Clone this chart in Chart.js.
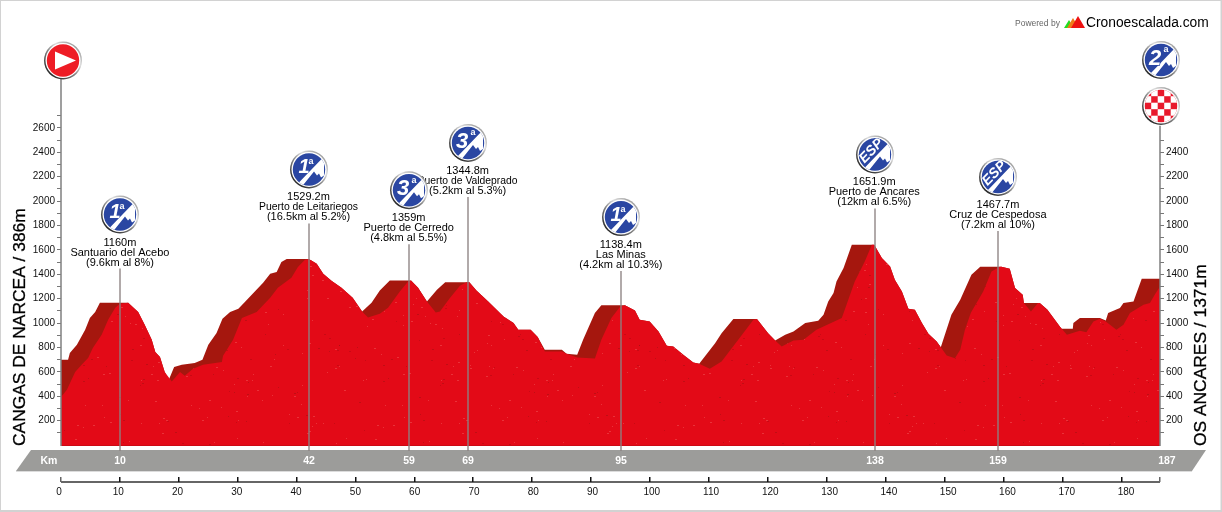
<!DOCTYPE html>
<html lang="es">
<head>
    <meta charset="UTF-8">
    <title>Cangas de Narcea - Os Ancares</title>
    <script src="https://cdn.jsdelivr.net/npm/chart.js"></script>
    <style>
        html, body { margin: 0; padding: 0; background: #fff; }
        canvas { display: block; }
    </style>
</head>
<body>
    <canvas id="profile" width="1222" height="512"></canvas>

<script>
// perfil de la etapa: silueta de fondo (con la sombra de los puertos)
const backKm = [0,1.2,1.5,2.7,4.1,4.9,5.8,6.6,11.4,13.1,14.2,15.4,16,16.8,17.6,18.3,19.2,20.5,22.7,24,25,26.4,27.4,28.7,30.1,31.2,34.3,35.5,36.6,37.4,38.3,42,42.5,43.4,44.5,45.9,47.6,49.5,51.1,52.7,54.1,55.8,59.4,60.6,62.1,63.8,65.2,69.3,70.5,72.5,75.1,76.8,77.6,79.7,80.9,82.1,85,85.8,87.6,88.6,90.6,91.7,95.7,97.4,98.2,99.9,101.4,102.8,103.9,105.6,107.3,108.3,111,112.1,114.1,118.1,120,121.2,122.9,124.3,126.3,128.5,129.4,130.2,131.1,131.6,132.8,134.2,138,139.3,140.7,141.5,142.7,143.8,144.9,146.1,147.2,148.6,149.3,151.1,152.6,154.5,156,159.6,161,161.9,163.2,163.4,166.1,167.4,169.5,169.8,171.7,171.8,172.9,176.3,177.3,177.7,179.7,180.3,182,183.4,186.5];
const backElev = [698,698,755,821,944,1042,1091,1165,1165,1091,985,862,763,722,599,534,640,657,673,698,821,919,1034,1091,1116,1173,1329,1403,1419,1501,1524,1524,1512,1485,1403,1346,1288,1206,1094,1165,1266,1348,1348,1288,1176,1272,1335,1335,1266,1176,1053,1001,944,944,886,780,780,747,739,862,1081,1146,1146,1102,1026,1012,930,813,807,739,676,665,835,917,1032,1032,917,856,903,930,999,1018,1067,1176,1245,1340,1450,1641,1641,1532,1463,1354,1258,1116,1108,999,911,848,802,1067,1190,1395,1461,1461,1444,1286,1231,1163,1163,1108,971,952,952,1001,1040,1040,1020,1081,1122,1163,1176,1362,1362];

// perfil de la etapa: silueta delantera
const frontKm = [0,1,2.4,3.5,4.6,5.4,6.9,8,9.2,10,11.4,13.1,14.2,15.4,16,16.8,17.6,18.8,20.2,21,22.4,24.1,27.3,27.5,29.2,30.7,33.2,35.5,36.8,39.1,40.2,41.4,42,42.5,43.4,44.5,45.9,47.6,49.5,51.1,52.1,54.1,55.5,57.5,58.9,59.4,60.6,62.1,63.6,64.3,66,67.7,68.8,69.3,70.5,72.5,75.1,76.8,77.6,79.7,80.9,82.1,85,85.8,87.6,90.6,91.7,93.4,94.9,95.7,97.4,98.2,99.9,101.4,102.8,103.9,105.6,107.3,108.3,110.1,112.1,114.7,117.5,118.1,120,121.2,122.3,124.3,126,128.2,132.5,133.6,134.7,136.4,137.6,138,139.3,140.7,141.5,142.7,143.8,144.9,146.1,147.2,148.6,149.3,150.3,151.7,152.6,153.4,154.4,156.5,157.9,159.3,159.6,161,161.9,163.2,163.4,164.6,165.8,166.1,167.4,169.5,170.7,172.9,174,175.2,176.3,177.3,179.1,180.3,181.4,183.7,184.8,185.6,186.5];
const frontElev = [394,452,599,657,714,796,903,1026,1124,1157,1165,1091,985,862,763,722,599,520,599,567,624,657,681,731,862,1042,1091,1206,1288,1370,1460,1518,1524,1512,1485,1403,1346,1288,1206,1094,1045,1075,1124,1258,1340,1348,1288,1176,1086,1094,1204,1305,1335,1335,1266,1176,1053,1001,944,944,886,767,767,747,717,708,862,1040,1135,1146,1102,1026,1012,930,813,807,739,676,665,626,684,848,1026,1032,917,856,807,856,862,944,1040,1190,1340,1504,1641,1641,1532,1463,1354,1258,1116,1108,999,911,848,802,733,712,780,944,1083,1258,1422,1461,1461,1444,1286,1231,1163,1094,1163,1163,1108,971,903,936,925,1012,1034,1012,944,985,1081,1149,1163,1231,1299];

// puertos
const climbKm = [10,42,59,69,95,138,159];
const climbElev = [1160,1529.2,1359,1344.8,1138.4,1651.9,1467.7];
const climbName = ['Santuario del Acebo','Puerto de Leitariegos','Puerto de Cerredo','Puerto de Valdeprado','Las Minas','Puerto de Ancares','Cruz de Cespedosa'];
const climbInfo = ['(9.6km al 8%)','(16.5km al 5.2%)','(4.8km al 5.5%)','(5.2km al 5.3%)','(4.2km al 10.3%)','(12km al 6.5%)','(7.2km al 10%)'];
const climbCat = ['1','1','3','3','1','ESP','ESP'];
const stripKm = [10,42,59,69,95,138,159,187];

const startName = 'CANGAS DE NARCEA / 386m';
const finishName = 'OS ANCARES / 1371m';
const finishCat = '2';

const BLUE = '#2a46a2';

// textura del relieve
function speckle() {
    const c = document.createElement('canvas');
    c.width = 300; c.height = 220;
    const g = c.getContext('2d');
    g.fillStyle = '#e30a17';
    g.fillRect(0, 0, c.width, c.height);
    let s = 12345;
    const next = () => { s = (s * 1103515245 + 12345) % 2147483648; return s / 2147483648; };
    for (let i = 0; i < 260; i++) {
        const t = next();
        g.fillStyle = t < 0.6 ? 'rgba(245,110,110,0.4)' : (t < 0.8 ? 'rgba(130,20,15,0.35)' : 'rgba(190,8,20,0.7)');
        g.fillRect(Math.floor(next() * 300), Math.floor(next() * 220), 1 + Math.floor(next() * 2), 1);
    }
    return g.createPattern(c, 'repeat');
}

function ring(g, x, y) {
    const grad = g.createLinearGradient(x - 13, y + 15, x + 13, y - 15);
    grad.addColorStop(0, '#222');
    grad.addColorStop(0.45, '#888');
    grad.addColorStop(0.7, '#ddd');
    grad.addColorStop(1, '#999');
    g.beginPath();
    g.arc(x, y, 19, 0, Math.PI * 2);
    g.fillStyle = grad;
    g.fill();
    g.beginPath();
    g.arc(x, y, 17.5, 0, Math.PI * 2);
    g.fillStyle = '#fff';
    g.fill();
}

function climbBadge(g, x, y, cat) {
    ring(g, x, y);
    g.save();
    g.beginPath();
    g.arc(x, y, 16.2, 0, Math.PI * 2);
    g.fillStyle = BLUE;
    g.fill();
    g.clip();
    // flecha-montaña
    g.fillStyle = '#fff';
    g.beginPath();
    const pts = [[-11,14],[15,-13],[15,6],[12,8],[10,4],[8,6],[5,2],[1,7],[-7,17]];
    pts.forEach((p, i) => i ? g.lineTo(x + p[0], y + p[1]) : g.moveTo(x + p[0], y + p[1]));
    g.closePath();
    g.fill();
    g.textAlign = 'center';
    g.textBaseline = 'middle';
    if (cat === 'ESP') {
        g.save();
        g.translate(x - 3.5, y - 3.5);
        g.rotate(-0.8);
        g.font = 'italic bold 14px "Liberation Sans"';
        g.strokeStyle = BLUE;
        g.lineWidth = 2.5;
        g.strokeText('ESP', 0, 0);
        g.fillText('ESP', 0, 0);
        g.restore();
    } else if (cat === '1') {
        g.font = 'italic bold 20px "Liberation Sans"';
        g.fillText(cat, x - 5, y - 2);
        g.font = 'bold 9px "Liberation Sans"';
        g.fillText('a', x + 2, y - 8);
    } else {
        g.font = 'italic bold 22px "Liberation Sans"';
        g.strokeStyle = BLUE;
        g.lineWidth = 1.5;
        g.strokeText(cat, x - 6, y - 1);
        g.fillText(cat, x - 6, y - 1);
        g.font = 'bold 9px "Liberation Sans"';
        g.fillText('a', x + 5, y - 10);
    }
    g.restore();
}

function startBadge(g, x, y) {
    ring(g, x, y);
    g.beginPath();
    g.arc(x, y, 16.2, 0, Math.PI * 2);
    g.fillStyle = '#ee1c25';
    g.fill();
    g.beginPath();
    g.moveTo(x - 8, y - 9);
    g.lineTo(x + 13, y);
    g.lineTo(x - 8, y + 9);
    g.closePath();
    g.fillStyle = '#fff';
    g.fill();
}

function finishBadge(g, x, y) {
    ring(g, x, y);
    g.save();
    g.beginPath();
    g.arc(x, y, 16.2, 0, Math.PI * 2);
    g.fillStyle = '#e8192c';
    g.fill();
    g.clip();
    g.fillStyle = '#fff';
    const size = 6.5;
    for (let i = -3; i < 3; i++) {
        for (let j = -3; j < 3; j++) {
            if ((i + j + 6) % 2 === 1) g.fillRect(x + i * size + 3.2, y + j * size + 3.2, size, size);
        }
    }
    g.restore();
}

function centerText(g, text, x, y, font, color, fit) {
    g.font = font;
    g.fillStyle = color;
    g.textAlign = 'center';
    g.textBaseline = 'middle';
    if (fit) g.fillText(text, x, y, fit);
    else g.fillText(text, x, y);
}

const raised = {69: 49};   // puerto subido para no pisar el vecino
const nameFit = [99, 99, 92, 100, 50, 94, 98];
const labelFont = '11px "Liberation Sans"';
const pinX = (x, km) => Math.round(x.getPixelForValue(km) + 0.4);
const pinTop = (y, i) => y.getPixelForValue(climbElev[i]) - 35 - (raised[climbKm[i]] || 0);

const decorations = {
    id: 'decorations',
    beforeDraw(chart) {
        const g = chart.ctx;
        g.save();
        g.fillStyle = '#fff';
        g.fillRect(0, 0, 1222, 512);
        // franja de km
        g.fillStyle = '#9c9c9a';
        g.beginPath();
        g.moveTo(31, 450);
        g.lineTo(1206, 450);
        g.lineTo(1192, 471);
        g.lineTo(16, 471);
        g.closePath();
        g.fill();
        g.fillStyle = '#dcdcdc';
        g.fillRect(16, 471, 1176, 1);
        g.restore();
    },
    afterDatasetsDraw(chart) {
        const g = chart.ctx, x = chart.scales.x, y = chart.scales.y;
        g.save();
        // línea base roja
        g.fillStyle = '#cc0a14';
        g.fillRect(x.left, y.bottom, x.right - x.left, 1);
        // líneas de los puertos
        g.strokeStyle = 'rgba(140,130,130,0.68)';
        g.lineWidth = 2;
        climbKm.forEach((km, i) => {
            const px = pinX(x, km);
            g.beginPath();
            g.moveTo(px, pinTop(y, i));
            g.lineTo(px, 451);
            g.stroke();
        });
        // ejes verticales
        g.strokeStyle = '#808080';
        g.lineWidth = 1.5;
        g.beginPath();
        g.moveTo(x.left, y.top);
        g.lineTo(x.left, y.bottom + 1);
        g.moveTo(x.right, chart.scales.yRight.getPixelForValue(2616));
        g.lineTo(x.right, y.bottom + 1);
        g.stroke();
        g.restore();
    },
    afterDraw(chart) {
        const g = chart.ctx, x = chart.scales.x, y = chart.scales.y;
        g.save();

        // eje de km separado del perfil
        g.fillStyle = '#666';
        g.fillRect(x.left, 481, x.right - x.left, 2);
        g.fillRect(x.right - 1, 477, 1.5, 5);
        x.ticks.forEach(t => {
            const px = x.getPixelForValue(t.value);
            g.fillRect(Math.round(px) - 1, 477, 1.5, 5);
            centerText(g, String(t.value), px + t.value * 0.035 - 2, 492.5, '10px "Liberation Sans"', '#111');
        });

        // rótulos de la franja
        centerText(g, 'Km', 49, 461, 'bold 10.5px "Liberation Sans"', '#fff');
        stripKm.forEach(km => {
            const px = km === 187 ? x.getPixelForValue(km) + 4 : pinX(x, km);
            centerText(g, String(km), px, 461, 'bold 10.5px "Liberation Sans"', '#fff');
        });

        // textos de los puertos, debajo de los iconos
        climbKm.forEach((km, i) => {
            const px = x.getPixelForValue(km);
            const top = pinTop(y, i);
            centerText(g, climbElev[i] + 'm', px, top - 26, labelFont, '#000');
            centerText(g, climbName[i], px, top - 16, labelFont, '#000', nameFit[i]);
            centerText(g, climbInfo[i], px, top - 6, labelFont, '#000');
        });
        climbKm.forEach((km, i) => {
            climbBadge(g, pinX(x, km), pinTop(y, i) - 54, climbCat[i]);
        });

        // salida y meta
        startBadge(g, x.left + 2, 60.5);
        climbBadge(g, x.right + 1, 60, finishCat);
        finishBadge(g, x.right + 1, 106);

        // nombres de salida y meta
        [[startName, 20], [finishName, 1201.5]].forEach(t => {
            g.save();
            g.translate(t[1], 446);
            g.rotate(-Math.PI / 2);
            g.font = '17.4px "Liberation Sans"';
            g.fillStyle = '#000';
            g.strokeStyle = '#000';
            g.lineWidth = 0.3;
            g.textAlign = 'left';
            g.textBaseline = 'middle';
            g.fillText(t[0], 0, 0);
            g.strokeText(t[0], 0, 0);
            g.restore();
        });

        // logo
        g.font = '8.5px "Liberation Sans"';
        g.fillStyle = '#666';
        g.textAlign = 'left';
        g.textBaseline = 'middle';
        g.fillText('Powered by', 1015, 23.5);
        [['#22dd22', 1069, 20, 5], ['#f07a18', 1073, 18, 6], ['#ee1111', 1078, 16, 7]].forEach(p => {
            g.fillStyle = p[0];
            g.beginPath();
            g.moveTo(p[1] - p[3], 28);
            g.lineTo(p[1], p[2]);
            g.lineTo(p[1] + p[3], 28);
            g.closePath();
            g.fill();
        });
        g.font = '13.8px "Liberation Sans"';
        g.fillStyle = '#000';
        g.fillText('Cronoescalada.com', 1086, 23);

        // marco
        g.strokeStyle = '#d2d2d2';
        g.lineWidth = 2;
        g.strokeRect(0, 0, 1221.5, 511);
        g.restore();
    }
};

const pairs = (xs, ys) => xs.map((v, i) => ({x: v, y: ys[i]}));

const yTicks = {
    font: {family: 'Liberation Sans', size: 10},
    color: '#111',
    padding: 2,
    autoSkip: false,
    stepSize: 100,
    callback: v => (v % 200 === 0 ? String(v) : '')
};

new Chart(document.getElementById('profile').getContext('2d'), {
    type: 'line',
    data: {
        datasets: [
            {
                label: 'front',
                data: pairs(frontKm, frontElev),
                backgroundColor: speckle(),
                borderWidth: 0,
                pointRadius: 0,
                tension: 0,
                fill: 'origin'
            },
            {
                label: 'back',
                data: pairs(backKm, backElev),
                backgroundColor: '#a5170e',
                borderWidth: 0,
                pointRadius: 0,
                tension: 0,
                fill: 'origin'
            }
        ]
    },
    options: {
        responsive: false,
        animation: false,
        layout: {padding: {top: 79}},
        plugins: {legend: {display: false}, tooltip: {enabled: false}},
        scales: {
            x: {
                type: 'linear',
                min: 0,
                max: 186.5,
                grid: {display: false},
                border: {display: false},
                ticks: {display: false, stepSize: 10, includeBounds: false},
                afterFit(s) { s.height = 67; }
            },
            y: {
                position: 'left',
                min: 0,
                max: 3000,
                ticks: yTicks,
                border: {display: false},
                grid: {drawOnChartArea: false, tickLength: 4, tickColor: '#777', tickWidth: 1},
                afterBuildTicks(s) { s.ticks = s.ticks.filter(t => t.value > 0 && t.value <= 2700); },
                afterFit(s) { s.width = 61; }
            },
            yRight: {
                axis: 'y',
                position: 'right',
                min: 0,
                max: 3000,
                ticks: yTicks,
                border: {display: false},
                grid: {drawOnChartArea: false, tickLength: 4, tickColor: '#777', tickWidth: 1},
                afterBuildTicks(s) { s.ticks = s.ticks.filter(t => t.value > 0 && t.value <= 2500); },
                afterFit(s) { s.width = 62; }
            }
        }
    },
    plugins: [decorations]
});
</script>
</body>
</html>
